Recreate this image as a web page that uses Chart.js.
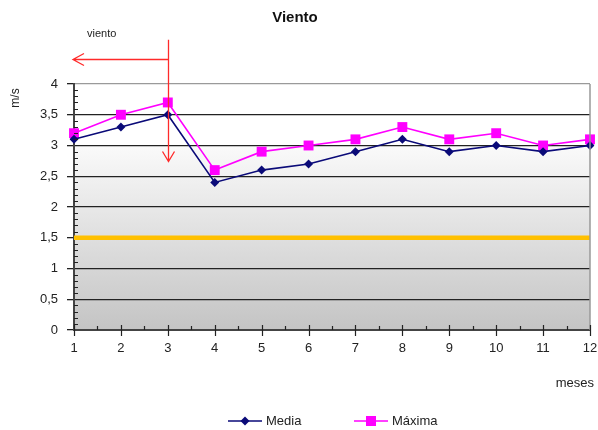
<!DOCTYPE html>
<html>
<head>
<meta charset="utf-8">
<title>Viento</title>
<script src="https://cdn.jsdelivr.net/npm/chart.js@4.4.1/dist/chart.umd.min.js"></script>
<style>
  html, body { margin: 0; padding: 0; background: #fff; }
  #wrap { width: 598px; height: 430px; }
</style>
</head>
<body>
<div id="wrap"><canvas id="grafico" width="598" height="430"></canvas></div>
<script>
// datos del grafico
const meses = ["1", "2", "3", "4", "5", "6", "7", "8", "9", "10", "11", "12"];
const vientoMedia = [3.1, 3.3, 3.5, 2.4, 2.6, 2.7, 2.9, 3.1, 2.9, 3.0, 2.9, 3.0];
const vientoMaxima = [3.2, 3.5, 3.7, 2.6, 2.9, 3.0, 3.1, 3.3, 3.1, 3.2, 3.0, 3.1];
const limiteViento = [1.5, 1.5, 1.5, 1.5, 1.5, 1.5, 1.5, 1.5, 1.5, 1.5, 1.5, 1.5];
const ticksY = [0, 0.5, 1, 1.5, 2, 2.5, 3, 3.5, 4];

// flecha roja sobre el mes 3
const flechaMes = 2;          // indice de "3"
const flechaArriba = 4.72;
const flechaHorizontal = 4.41;
const flechaAbajo = 2.74;

const fuente = "'Liberation Sans', Arial, sans-serif";
const colorMedia = "#0a0a78";
const colorMaxima = "#ff00ff";

// fondo gris degradado y marco
const fondoGrafico = {
  id: "fondoGrafico",
  beforeDraw(chart) {
    const { ctx, chartArea: a, scales } = chart;
    const y3 = scales.y.getPixelForValue(3);
    ctx.save();
    ctx.fillStyle = "#ffffff";
    ctx.fillRect(a.left, a.top, a.right - a.left, y3 - a.top);
    const grad = ctx.createLinearGradient(0, y3, 0, a.bottom);
    grad.addColorStop(0, "#fafafa");
    grad.addColorStop(1, "#c4c4c4");
    ctx.fillStyle = grad;
    ctx.fillRect(a.left, y3, a.right - a.left, a.bottom - y3);
    ctx.restore();
  },
  afterDraw(chart) {
    const { ctx, chartArea: a, scales } = chart;
    ctx.save();
    // borde derecho
    ctx.strokeStyle = "#999";
    ctx.lineWidth = 1.5;
    ctx.beginPath();
    ctx.moveTo(a.right, a.top);
    ctx.lineTo(a.right, a.bottom);
    ctx.stroke();

    // marcas menores eje y
    ctx.strokeStyle = "#222";
    ctx.lineWidth = 1.2;
    ctx.beginPath();
    for (let v = 0; v <= 40; v++) {
      if (v % 5 === 0) continue;
      const py = Math.round(scales.y.getPixelForValue(v / 10)) + 0.5;
      ctx.moveTo(a.left, py);
      ctx.lineTo(a.left + 4, py);
    }
    // marcas eje x
    for (let i = 0; i < meses.length; i++) {
      const px = Math.round(scales.x.getPixelForValue(i)) + 0.5;
      ctx.moveTo(px, a.bottom - 5);
      ctx.lineTo(px, a.bottom + 6);
      if (i < meses.length - 1) {
        const pm = Math.round(scales.x.getPixelForValue(i + 0.5)) + 0.5;
        ctx.moveTo(pm, a.bottom - 4);
        ctx.lineTo(pm, a.bottom);
      }
    }
    ctx.stroke();

    // textos de ejes
    ctx.fillStyle = "#222";
    ctx.font = "13px " + fuente;
    ctx.textAlign = "right";
    ctx.textBaseline = "middle";
    ctx.fillText("meses", 594, 383);
    ctx.save();
    ctx.translate(16, 98);
    ctx.rotate(-Math.PI / 2);
    ctx.textAlign = "center";
    ctx.font = "12px " + fuente;
    ctx.fillText("m/s", 0, 0);
    ctx.restore();

    // leyenda
    const ly = 421;
    ctx.lineWidth = 1.5;
    ctx.strokeStyle = colorMedia;
    ctx.beginPath();
    ctx.moveTo(228, ly);
    ctx.lineTo(262, ly);
    ctx.stroke();
    ctx.fillStyle = colorMedia;
    ctx.beginPath();
    ctx.moveTo(245, ly - 4.5);
    ctx.lineTo(249.5, ly);
    ctx.lineTo(245, ly + 4.5);
    ctx.lineTo(240.5, ly);
    ctx.closePath();
    ctx.fill();
    ctx.strokeStyle = colorMaxima;
    ctx.beginPath();
    ctx.moveTo(354, ly);
    ctx.lineTo(388, ly);
    ctx.stroke();
    ctx.fillStyle = colorMaxima;
    ctx.fillRect(366, ly - 5, 10, 10);
    ctx.fillStyle = "#222";
    ctx.textAlign = "left";
    ctx.font = "13px " + fuente;
    ctx.fillText("Media", 266, ly);
    ctx.fillText("Máxima", 392, ly);
    ctx.restore();
  }
};

// flecha roja "viento"
const flechaViento = {
  id: "flechaViento",
  afterDatasetsDraw(chart) {
    const { ctx, chartArea: a, scales } = chart;
    const x = Math.round(scales.x.getPixelForValue(flechaMes)) + 0.5;
    const yTop = scales.y.getPixelForValue(flechaArriba);
    const yH = Math.round(scales.y.getPixelForValue(flechaHorizontal)) + 0.5;
    const yBot = scales.y.getPixelForValue(flechaAbajo);
    ctx.save();
    ctx.strokeStyle = "#ff2a2a";
    ctx.lineWidth = 1.3;
    ctx.beginPath();
    ctx.moveTo(x, yTop);
    ctx.lineTo(x, yBot);
    ctx.moveTo(x - 6, yBot - 10);
    ctx.lineTo(x, yBot);
    ctx.lineTo(x + 6, yBot - 10);
    ctx.moveTo(x, yH);
    ctx.lineTo(a.left - 1, yH);
    ctx.moveTo(a.left + 10, yH - 6);
    ctx.lineTo(a.left - 1, yH);
    ctx.lineTo(a.left + 10, yH + 6);
    ctx.stroke();
    ctx.fillStyle = "#222";
    ctx.font = "11px " + fuente;
    ctx.textBaseline = "middle";
    ctx.fillText("viento", 87, 34);
    ctx.restore();
  }
};

const config = {
  type: "line",
  data: {
    labels: meses,
    datasets: [
      {
        label: "Media",
        data: vientoMedia,
        borderColor: colorMedia,
        backgroundColor: colorMedia,
        borderWidth: 1.6,
        pointStyle: "rectRot",
        pointRadius: 4.5,
        pointBorderWidth: 0,
        tension: 0,
        order: 1
      },
      {
        label: "Máxima",
        data: vientoMaxima,
        borderColor: colorMaxima,
        backgroundColor: colorMaxima,
        borderWidth: 1.6,
        pointStyle: "rect",
        pointRadius: 7,
        pointBorderWidth: 0,
        tension: 0,
        order: 2
      },
      {
        label: "limite",
        data: limiteViento,
        borderColor: "#ffc000",
        borderWidth: 4.5,
        pointRadius: 0,
        tension: 0,
        order: 3
      }
    ]
  },
  options: {
    responsive: false,
    animation: false,
    events: [],
    layout: { padding: { top: 0, left: 0, right: 8, bottom: 0 } },
    plugins: {
      legend: { display: false },
      tooltip: { enabled: false },
      title: {
        display: true,
        text: "Viento",
        color: "#111",
        font: { family: fuente, size: 15, weight: "bold" },
        padding: { top: 9, bottom: 57 }
      }
    },
    scales: {
      x: {
        offset: false,
        afterFit: (s) => { s.height = 100; s.paddingLeft = 0; s.paddingRight = 0; },
        grid: { display: false, drawTicks: false },
        border: { display: true, color: "#444", width: 2 },
        ticks: {
          color: "#222",
          padding: 11,
          maxRotation: 0,
          font: { family: fuente, size: 13 }
        }
      },
      y: {
        min: 0,
        max: 4,
        afterFit: (s) => { s.width = 74; s.paddingTop = 0; s.paddingBottom = 0; },
        afterBuildTicks: (s) => { s.ticks = ticksY.map((v) => ({ value: v })); },
        grid: {
          color: (c) => (c.tick && c.tick.value === 4 ? "#9a9a9a" : "#222"),
          lineWidth: 1.3,
          tickLength: 7,
          tickColor: "#222",
          drawTicks: true
        },
        border: { display: true, color: "#444", width: 2 },
        ticks: {
          color: "#222",
          padding: 9,
          font: { family: fuente, size: 13 },
          callback: (v) => String(v).replace(".", ",")
        }
      }
    }
  },
  plugins: [fondoGrafico, flechaViento]
};

new Chart(document.getElementById("grafico"), config);
</script>
</body>
</html>
